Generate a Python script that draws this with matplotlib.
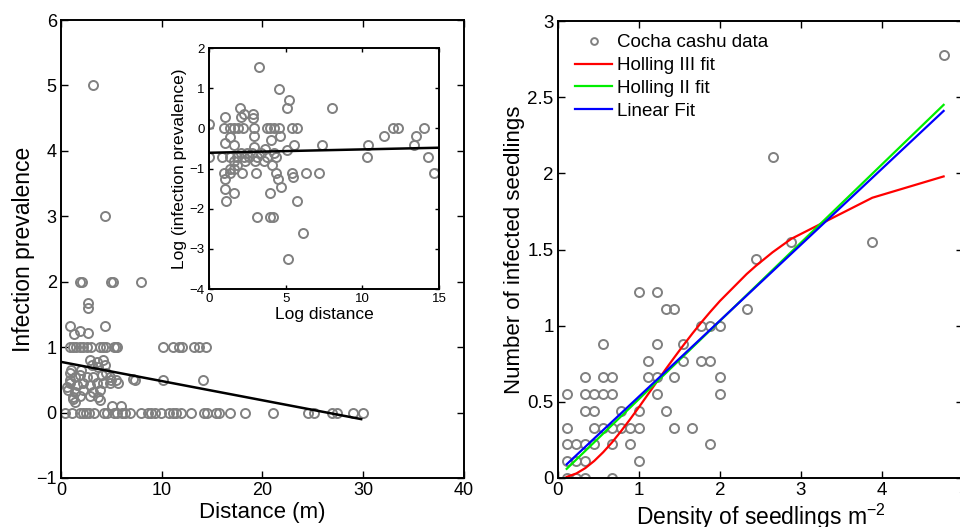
import numpy as np
import matplotlib
matplotlib.use('Agg')
import matplotlib.pyplot as plt

plt.rcParams['font.family'] = ['Liberation Sans', 'DejaVu Sans']
plt.rcParams['mathtext.fontset'] = 'custom'
plt.rcParams['mathtext.rm'] = 'Liberation Sans'
plt.rcParams['mathtext.it'] = 'Liberation Sans'
plt.rcParams['mathtext.bf'] = 'Liberation Sans'

# ---- left panel: distance vs infection prevalence
dist_zero = [0.4, 1.05, 1.9, 2.2, 2.5, 2.8, 3.3, 4.3, 4.6, 5.3, 5.6, 6.1, 6.4, 6.9,
             7.96, 8.6, 8.95, 9.3, 9.9, 10.75, 11.1, 11.4, 11.9, 12.9, 14.2, 14.5,
             15.4, 15.7, 16.8, 18.3, 21.0, 24.5, 25.1, 26.9, 27.4, 29.0, 30.0]
dist_one = [0.9, 1.2, 1.5, 1.9, 2.2, 2.6, 3.0, 3.85, 4.2, 4.5, 5.3, 5.5, 5.6,
            10.1, 11.1, 11.7, 12.0, 13.2, 13.7, 14.4]
dist_two = [1.9, 2.1, 5.0, 5.2, 7.9]
dist_other = [3.2, 4.4, 2.7, 2.7, 0.9, 1.9, 1.3, 2.7, 4.4,
              2.88, 3.54, 4.2, 3.04, 3.7, 4.37, 0.89, 1.39, 1.88, 2.55, 3.21, 4.03, 4.86,
              0.89, 1.55, 2.22, 2.88, 3.54, 4.2, 4.86, 5.69, 7.17, 7.3, 10.15, 14.1,
              0.73, 1.39, 2.22, 3.21, 3.87, 1.22, 1.88, 2.88, 3.7, 1.39, 3.87, 5.03, 5.96,
              0.56, 0.89, 1.0, 1.2, 2.0, 4.5, 5.0, 5.5]
prev_other = [5.0, 3.0, 1.67, 1.6, 1.33, 1.25, 1.2, 1.22, 1.33,
              0.80, 0.775, 0.80, 0.725, 0.70, 0.725, 0.60, 0.55, 0.57, 0.55, 0.55, 0.57, 0.55,
              0.445, 0.42, 0.445, 0.42, 0.445, 0.445, 0.445, 0.445, 0.52, 0.50, 0.50, 0.50,
              0.34, 0.32, 0.34, 0.32, 0.34, 0.24, 0.26, 0.26, 0.24, 0.16, 0.19, 0.10, 0.10,
              0.39, 0.50, 0.65, 0.20, 0.65, 0.60, 0.50, 0.50]
dist_x = dist_zero + dist_one + dist_two + dist_other
prev_y = [0] * len(dist_zero) + [1] * len(dist_one) + [2] * len(dist_two) + prev_other
fit_x = [0, 29.8]
fit_y = [0.775, -0.10]

# ---- inset: log distance vs log prevalence
log_d = [0.0, 0.0, 3.25, 4.56, 5.2, 5.06, 8.0, 2.04, 1.05, 2.9, 2.85, 2.08, 2.26,
         0.99, 1.38, 1.6, 1.86, 2.19, 2.96, 3.79, 4.01, 4.23, 4.56, 5.44, 5.77,
         2.92, 4.06, 4.63, 5.55, 7.35, 1.38, 1.05, 1.6, 2.92, 3.68, 5.06,
         10.37, 10.3, 11.4, 11.99, 12.3, 13.4, 13.5, 14.05, 14.3, 14.7,
         0.88, 1.38, 1.82, 2.26, 2.59, 3.14, 3.79, 4.34,
         2.08, 2.48, 2.81, 3.36, 4.23, 1.6, 2.37, 3.03, 3.57, 1.82, 4.12,
         0.99, 1.38, 2.15, 3.07, 4.34, 5.44, 6.32, 7.19, 1.38, 1.6,
         5.48, 1.05, 4.5, 4.7, 1.07, 1.6, 3.97, 1.12, 5.77, 3.14, 3.97, 4.19, 6.1, 5.15]
log_p = [0.12, -0.7, 1.54, 0.98, 0.7, 0.51, 0.51, 0.51, 0.29, 0.37, 0.25, 0.29, 0.37,
         0, 0, 0, 0, 0, 0, 0, 0, 0, 0, 0, 0,
         -0.2, -0.29, -0.19, -0.41, -0.4, -0.21, -0.37, -0.41, -0.46, -0.5, -0.54,
         -0.4, -0.7, -0.19, 0, 0, -0.41, -0.19, 0, -0.7, -1.1,
         -0.7, -0.7, -0.7, -0.7, -0.7, -0.7, -0.7, -0.7,
         -0.6, -0.6, -0.6, -0.6, -0.6, -0.8, -0.8, -0.8, -0.8, -0.9, -0.9,
         -1.1, -1.1, -1.1, -1.1, -1.1, -1.1, -1.1, -1.1, -1.0, -1.0,
         -1.2, -1.25, -1.25, -1.45, -1.5, -1.6, -1.6, -1.8, -1.8, -2.2, -2.2, -2.2, -2.6, -3.25]
log_fit_x = [0, 15]
log_fit_y = [-0.606, -0.48]

# ---- right panel: density vs infected seedlings
dens = [0.11, 0.23, 0.34, 0.67,
        0.11, 0.23, 0.34, 1.0,
        0.11, 0.23, 0.34, 0.45, 0.67, 0.89, 1.88,
        0.11, 0.45, 0.56, 0.67, 0.78, 0.89, 1.0, 1.44, 1.66,
        0.34, 0.45, 0.78, 1.0, 1.33,
        0.11, 0.34, 0.45, 0.56, 0.67, 1.22, 2.0,
        0.34, 0.56, 0.67, 1.11, 1.22, 1.44, 2.0,
        1.11, 1.55, 1.77, 1.88,
        0.56, 1.22, 1.55,
        1.77, 1.88, 2.0,
        1.33, 1.44, 2.33,
        1.0, 1.22,
        2.44, 2.88, 3.88, 2.65, 4.76]
infected = [0, 0, 0, 0,
            0.11, 0.11, 0.11, 0.11,
            0.22, 0.22, 0.22, 0.22, 0.22, 0.22, 0.22,
            0.33, 0.33, 0.33, 0.33, 0.33, 0.33, 0.33, 0.33, 0.33,
            0.44, 0.44, 0.44, 0.44, 0.44,
            0.55, 0.55, 0.55, 0.55, 0.55, 0.55, 0.55,
            0.66, 0.66, 0.66, 0.66, 0.66, 0.66, 0.66,
            0.77, 0.77, 0.77, 0.77,
            0.88, 0.88, 0.88,
            1.0, 1.0, 1.0,
            1.11, 1.11, 1.11,
            1.22, 1.22,
            1.44, 1.55, 1.55, 2.11, 2.78]
h3_x = [0.11, 0.23, 0.34, 0.45, 0.56, 0.67, 0.78, 0.89, 1.0, 1.11, 1.22, 1.33,
        1.44, 1.55, 1.66, 1.77, 1.88, 2.0, 2.33, 2.44, 2.65, 2.88, 3.88, 4.76]
h3_y = [0.007, 0.03, 0.065, 0.112, 0.169, 0.234, 0.307, 0.384, 0.464, 0.547, 0.63, 0.713,
        0.793, 0.872, 0.948, 1.021, 1.09, 1.162, 1.339, 1.391, 1.482, 1.57, 1.84, 1.98]
h2_x = [0.11, 4.76]
h2_y = [0.06, 2.45]
lin_x = [0.11, 4.76]
lin_y = [0.09, 2.41]

gray = '#808080'

fig = plt.figure(figsize=(9.6, 5.27), dpi=100)

def style(ax, size):
    ax.tick_params(direction='in', top=True, right=True, length=5, width=1,
                   labelsize=size, pad=3)
    for s in ax.spines.values():
        s.set_linewidth(1.4)

# left main
ax1 = fig.add_axes([0.0635, 0.093, 0.4198, 0.869])
ax1.plot(dist_x, prev_y, 'o', mfc='none', mec=gray, ms=6.5, mew=1.4)
ax1.plot(fit_x, fit_y, color='black', lw=1.8)
ax1.set_xlim(0, 40)
ax1.set_ylim(-1, 6)
ax1.set_xticks([0, 10, 20, 30, 40])
ax1.set_yticks(range(-1, 7))
style(ax1, 13)
ax1.set_xlabel('Distance (m)', fontsize=16, labelpad=2)
ax1.set_ylabel('Infection prevalence', fontsize=16.5, labelpad=1)

# inset
ax2 = fig.add_axes([0.2177, 0.4516, 0.2396, 0.457])
ax2.plot(log_d, log_p, 'o', mfc='none', mec=gray, ms=6.5, mew=1.4)
ax2.plot(log_fit_x, log_fit_y, color='black', lw=1.8)
ax2.set_xlim(0, 15)
ax2.set_ylim(-4, 2)
ax2.set_xticks([0, 5, 10, 15])
ax2.set_yticks(range(-4, 3))
style(ax2, 9.5)
ax2.tick_params(length=3)
ax2.set_xlabel('Log distance', fontsize=12.5, labelpad=1)
ax2.set_ylabel('Log (infection prevalence)', fontsize=12.5, labelpad=2)

# right panel
ax3 = fig.add_axes([0.581, 0.093, 0.4222, 0.867])
ax3.plot(dens, infected, 'o', mfc='none', mec=gray, ms=6.5, mew=1.4,
         label='Cocha cashu data')
ax3.plot(h3_x, h3_y, color='#ff0000', lw=1.6, label='Holling III fit')
ax3.plot(h2_x, h2_y, color='#00ee00', lw=1.6, label='Holling II fit')
ax3.plot(lin_x, lin_y, color='#0000ff', lw=1.6, label='Linear Fit')
ax3.set_xlim(0, 5)
ax3.set_ylim(0, 3)
ax3.set_xticks(range(0, 6))
ax3.set_yticks([0, 0.5, 1, 1.5, 2, 2.5, 3])
ax3.set_yticklabels(['0', '0.5', '1', '1.5', '2', '2.5', '3'])
style(ax3, 13.5)
ax3.set_xlabel('Density of seedlings m$^{-2}$', fontsize=16.5, labelpad=2)
ax3.set_ylabel('Number of infected seedlings', fontsize=16, labelpad=2)
ax3.legend(loc='upper left', bbox_to_anchor=(0.01, 1.0), frameon=False,
           fontsize=13.5, markerscale=0.75, handlelength=2.0, handletextpad=0.25,
           labelspacing=0.3, borderaxespad=0.3)

fig.savefig('out.png', dpi=100)
